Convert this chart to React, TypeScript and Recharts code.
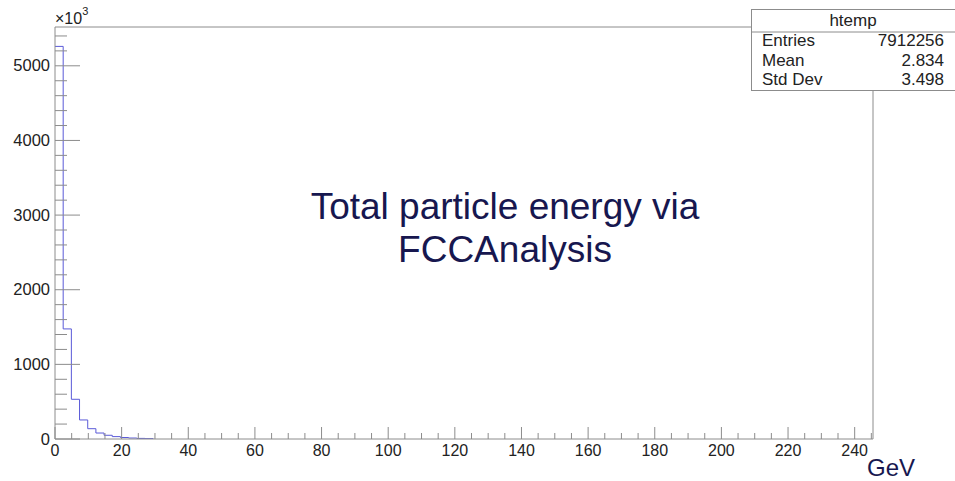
import React from 'react';
import { ComposedChart, Line, XAxis, YAxis, ReferenceLine } from 'recharts';

// bin contents (x10^3 units on the axis); bins past these are empty
const binCounts = [5260, 1475, 532, 255, 138, 80, 50, 32, 20, 13, 8, 5];
const nBins = 100;
const xMax = 245.5;
const yMax = 5520;

const xTicks = [0, 5, 10, 15, 20, 25, 30, 35, 40, 45, 50, 55, 60, 65, 70, 75, 80, 85, 90, 95, 100, 105, 110, 115, 120, 125, 130, 135, 140, 145, 150, 155, 160, 165, 170, 175, 180, 185, 190, 195, 200, 205, 210, 215, 220, 225, 230, 235, 240, 245];
const yTicks = [0, 200, 400, 600, 800, 1000, 1200, 1400, 1600, 1800, 2000, 2200, 2400, 2600, 2800, 3000, 3200, 3400, 3600, 3800, 4000, 4200, 4400, 4600, 4800, 5000, 5200, 5400];

const statsLabels = ['Entries', 'Mean', 'Std Dev'];
const statsValues = ['7912256', '2.834', '3.498'];
const titleLines = ['Total particle energy via', 'FCCAnalysis'];

const FONT = '"Liberation Sans", Arial, Helvetica, sans-serif';
const AXIS = '#8c8c8c';
const NAVY = '#17174f';

const binW = xMax / nBins;
const histData = [
  ...binCounts.map((c, i) => ({ x: i * binW, y: c })),
  { x: binCounts.length * binW, y: 0 },
];

function XTick(props: any) {
  const { x, y, payload } = props;
  const v = payload.value;
  const major = v % 20 === 0;
  return (
    <g>
      <line x1={x} x2={x} y1={y} y2={y - (major ? 12 : 6)} stroke={AXIS} strokeWidth={1} />
      {major && (
        <text x={x} y={y + 17} textAnchor="middle" fontFamily={FONT} fontSize={16} fill="#222">
          {v}
        </text>
      )}
    </g>
  );
}

function YTick(props: any) {
  const { x, y, payload } = props;
  const v = payload.value;
  const major = v % 1000 === 0;
  return (
    <g>
      <line x1={x} x2={x + (major ? 25 : 12)} y1={y} y2={y} stroke={AXIS} strokeWidth={1} />
      {major && (
        <text x={x - 5} y={y + 5.5} textAnchor="end" fontFamily={FONT} fontSize={16.5} fill="#222">
          {v}
        </text>
      )}
    </g>
  );
}

export default function App() {
  return (
    <div style={{ position: 'relative', width: 955, height: 481, background: '#fff' }}>
      <style>{`body{margin:0}`}</style>
      <ComposedChart
        width={955}
        height={481}
        data={histData}
        margin={{ top: 27, right: 82, bottom: 12, left: 5 }}
      >
        <XAxis
          dataKey="x"
          type="number"
          domain={[0, xMax]}
          ticks={xTicks}
          interval={0}
          height={30}
          tickSize={0}
          tickMargin={0}
          tickLine={false}
          axisLine={{ stroke: AXIS }}
          tick={<XTick />}
          allowDataOverflow
        />
        <YAxis
          type="number"
          domain={[0, yMax]}
          ticks={yTicks}
          interval={0}
          width={50}
          tickSize={0}
          tickMargin={0}
          tickLine={false}
          axisLine={{ stroke: AXIS }}
          tick={<YTick />}
          allowDataOverflow
        />
        <ReferenceLine y={yMax} stroke={AXIS} strokeWidth={1} />
        <ReferenceLine x={xMax} stroke={AXIS} strokeWidth={1} />
        <Line
          type="stepAfter"
          dataKey="y"
          stroke="#5a5ad8"
          strokeWidth={1}
          dot={false}
          activeDot={false}
          isAnimationActive={false}
        />
      </ComposedChart>
      <svg width={955} height={481} style={{ position: 'absolute', left: 0, top: 0, pointerEvents: 'none' }}>
        <text x={55} y={24} fontFamily={FONT} fontSize={16} fill="#222">
          ×10<tspan dy={-9} fontSize={11}>3</tspan>
        </text>
        <rect x={751.5} y={9.5} width={210} height={81} fill="#fff" stroke={AXIS} strokeWidth={1} />
        <line x1={751.5} x2={955} y1={32} y2={32} stroke={AXIS} strokeWidth={1} />
        <text x={853} y={26} textAnchor="middle" fontFamily={FONT} fontSize={17} fill="#222">htemp</text>
        {statsLabels.map((l, i) => (
          <text key={l} x={762} y={46 + i * 19.5} fontFamily={FONT} fontSize={17} fill="#222">{l}</text>
        ))}
        {statsValues.map((v, i) => (
          <text key={v} x={944} y={46 + i * 19.5} textAnchor="end" fontFamily={FONT} fontSize={17} fill="#222">{v}</text>
        ))}
        {titleLines.map((t, i) => (
          <text key={t} x={505} y={219 + i * 42.5} textAnchor="middle" fontFamily={FONT} fontSize={37} fill={NAVY}>{t}</text>
        ))}
        <text x={867} y={476} fontFamily={FONT} fontSize={24} fill={NAVY}>GeV</text>
      </svg>
    </div>
  );
}
